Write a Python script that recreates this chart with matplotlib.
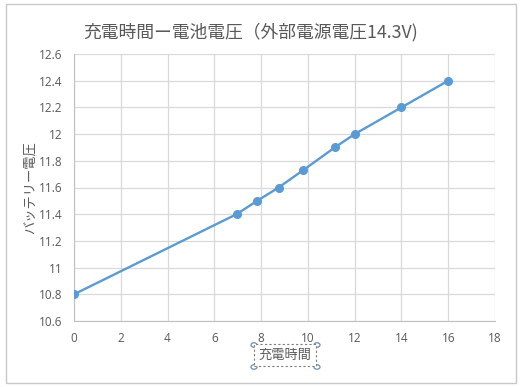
import matplotlib
matplotlib.use('Agg')
import matplotlib.pyplot as plt
from matplotlib.patches import Rectangle

plt.rcParams['font.family'] = ['Noto Sans CJK JP', 'DejaVu Sans']

# 充電時間 [h] と 電池電圧 [V]
charge_time = [0, 6.95, 7.83, 8.75, 9.8, 11.15, 12, 14, 16]
battery_v = [10.8, 11.4, 11.5, 11.6, 11.73, 11.9, 12.0, 12.2, 12.4]

x_ticks = [0, 2, 4, 6, 8, 10, 12, 14, 16, 18]
y_ticks = [10.6, 10.8, 11, 11.2, 11.4, 11.6, 11.8, 12, 12.2, 12.4, 12.6]
y_labels = ['10.6', '10.8', '11', '11.2', '11.4', '11.6', '11.8', '12', '12.2', '12.4', '12.6']

text_col = '#595959'
grid_col = '#d9d9d9'

fig = plt.figure(figsize=(5.22, 3.87), dpi=100, facecolor='white')
ax = fig.add_axes([74/522, 1-321/387, (495-74)/522, (321-54)/387])

# chart frame (Excel chart area)
fig.patches.append(Rectangle((6/522, 4/387), 510/522, 379/387, transform=fig.transFigure,
                             fill=False, edgecolor='#c8c8c8', lw=1.0))

ax.plot(charge_time, battery_v, color='#5b9bd5', lw=1.7, marker='o', ms=5.5,
        markeredgecolor='#5b9bd5', markerfacecolor='#5b9bd5', zorder=3)

ax.set_xlim(0, 18)
ax.set_ylim(10.6, 12.6)
ax.set_xticks(x_ticks)
ax.set_yticks(y_ticks)
ax.set_yticklabels(y_labels)
ax.grid(True, color=grid_col, lw=0.9)
ax.set_axisbelow(True)

for s in ['top', 'right']:
    ax.spines[s].set_visible(False)
for s in ['left', 'bottom']:
    ax.spines[s].set_color('#bfbfbf')
ax.tick_params(length=0, colors=text_col, labelsize=8.5, pad=8)
for lbl in ax.get_xticklabels() + ax.get_yticklabels():
    lbl.set_family(['Open Sans', 'DejaVu Sans'])

fig.text(0.48, 1-32/387, '充電時間ー電池電圧（外部電源電圧14.3V)', ha='center', va='center',
         fontsize=12.8, color=text_col)
ax.set_ylabel('バッテリー電圧', fontsize=9.5, color=text_col, labelpad=2)

fig.text(285/522, 1-355/387, '充電時間', ha='center', va='center', fontsize=9.5, color=text_col,
         bbox=dict(boxstyle='square,pad=0.35', fc='white', ec='#7f7f7f', ls=(0, (2, 2)), lw=0.8))
# selection handles
for hx in [254, 317]:
    for hy in [345, 367]:
        fig.patches.append(plt.Circle((hx/522, 1-hy/387), 3/522, transform=fig.transFigure,
                                      fill=True, fc='white', ec='#6d8fb0', lw=0.9))

fig.savefig('out.png', dpi=100, facecolor='white')
